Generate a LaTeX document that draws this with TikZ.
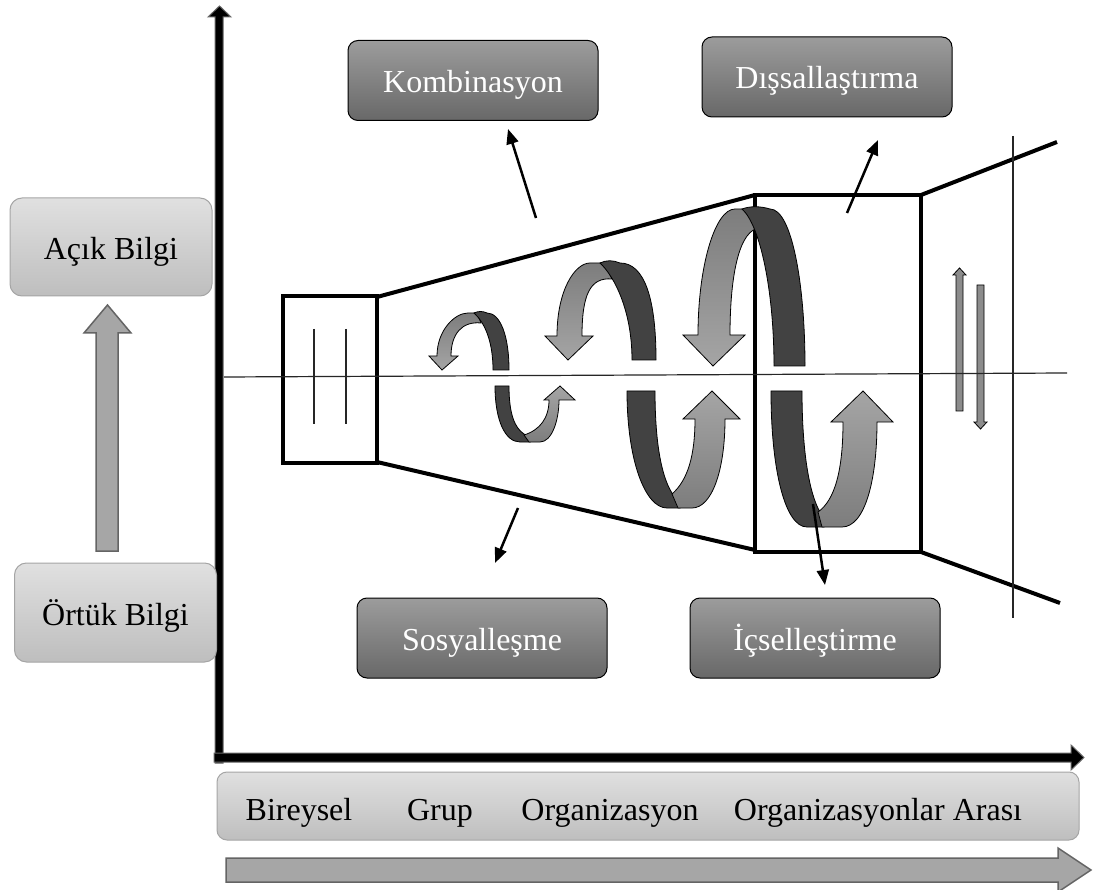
\documentclass[tikz,border=0pt]{standalone}
\usepackage{fontspec}
\setmainfont{Liberation Serif}
\usetikzlibrary{arrows.meta,shadings}
\definecolor{dtop}{RGB}{156,156,156}
\definecolor{dbot}{RGB}{104,104,104}
\definecolor{ltop}{RGB}{224,224,224}
\definecolor{lbot}{RGB}{190,190,190}
\definecolor{lborder}{RGB}{165,165,165}
\definecolor{ribdark}{RGB}{66,66,66}
\definecolor{ribla}{RGB}{125,125,125}
\definecolor{riblb}{RGB}{165,165,165}
\definecolor{garrow}{RGB}{166,166,166}
\definecolor{garrowb}{RGB}{100,100,100}
\definecolor{smallarrow}{RGB}{140,140,140}
\tikzset{
  darkbox/.style={rounded corners=10pt, draw=black, line width=1pt, top color=dtop, bottom color=dbot,
    minimum width=250pt, minimum height=80pt, text=white, inner sep=0pt,
    font=\fontsize{32}{38}\selectfont, text height=24pt, text depth=0pt},
  lightbox/.style={rounded corners=12pt, draw=lborder, line width=1pt, top color=ltop, bottom color=lbot,
    inner sep=0pt, font=\fontsize{32}{38}\selectfont, text height=26pt, text depth=0pt},
  bartext/.style={font=\fontsize{32}{38}\selectfont, anchor=base, inner sep=0pt},
  frameline/.style={line width=4pt, draw=black, line join=miter},
  hairline/.style={line width=1.2pt, draw=black!85},
  conn/.style={line width=2.5pt, -{Triangle[length=15pt,width=12pt]}},
  ribdk/.style={fill=ribdark, draw=black, line width=0.8pt},
  ribup/.style={top color=ribla, bottom color=riblb, draw=black, line width=0.8pt},
  ribdn/.style={top color=riblb, bottom color=ribla, draw=black, line width=0.8pt},
  grayarrow/.style={fill=garrow, draw=garrowb, line width=1.5pt},
  thinarrow/.style={fill=smallarrow, draw=black, line width=0.8pt},
  axisarrow/.style={fill=black, draw=black!60, line width=1pt}
}
\begin{document}
\begin{tikzpicture}[x=1pt,y=-1pt]
\useasboundingbox (0,0) rectangle (1095,890);
\fill[white] (0,0) rectangle (1095,890);

% axes
\path[axisarrow] (215,763) -- (215,17) -- (208,17) -- (219.5,6) -- (231,17) -- (223,17) -- (223,763) -- cycle;
\path[axisarrow] (214,753) -- (1071,753) -- (1071,745) -- (1084,757.5) -- (1071,770) -- (1071,762) -- (214,762) -- cycle;

% left boxes and arrow
\node[lightbox, minimum width=202pt, minimum height=98pt] (acik) at (111,247) {Açık Bilgi};
\node[lightbox, minimum width=202pt, minimum height=99pt] (ortuk) at (115.5,612.5) {Örtük Bilgi};
\path[grayarrow] (96,551) -- (96,333) -- (84,333) -- (107.5,305) -- (131,333) -- (118,333) -- (118,551) -- cycle;

% bottom bar
\node[lightbox, minimum width=862pt, minimum height=68pt, rounded corners=10pt] (bar) at (648,806) {};
\node[bartext] (t1) at (299,820) {Bireysel};
\node[bartext] (t2) at (440,820) {Grup};
\node[bartext] (t3) at (610,820) {Organizasyon};
\node[bartext] (t4) at (878,820) {Organizasyonlar Arası};
\path[grayarrow] (226,858) -- (1058,858) -- (1058,848) -- (1091,870) -- (1058,892) -- (1058,882) -- (226,882) -- cycle;

% dark boxes
\node[darkbox] (komb) at (473,80.5) {Kombinasyon};
\node[darkbox] (diss) at (827,77) {Dışsallaştırma};
\node[darkbox] (sosy) at (482,638) {Sosyalleşme};
\node[darkbox] (icse) at (815,638) {İçselleştirme};

% frames
\draw[frameline] (283,296) rectangle (377,463);
\draw[frameline] (755,195) rectangle (921,552);
\draw[frameline] (377,297) -- (755,195);
\draw[frameline] (377,462) -- (755,550);
\draw[frameline] (921,195) -- (1057,142);
\draw[frameline] (921,552) -- (1060,603);
\draw[hairline] (314,329) -- (314,424);
\draw[hairline] (346,329) -- (346,424);
\draw[hairline] (1013,136) -- (1013,618);

% ribbon A (small, upper)
\path[ribup] (451,356) .. controls (451,334) and (462,321) .. (481,323) -- (477,313) -- (468,313)
  .. controls (455,313) and (437,330) .. (437,356) -- (429,356) -- (442,370) -- (458,356) -- cycle;
\path[ribdk] (493,370) -- (509,370) .. controls (509,335) and (500,313) .. (487,313)
  .. controls (483,311) and (478,311) .. (474,313) .. controls (484,322) and (493,340) .. (493,370) -- cycle;
% ribbon B (small, lower)
\path[ribdk] (495,386) -- (509,386) .. controls (509,415) and (515,428) .. (524,434) -- (530,442) -- (520,442)
  .. controls (505,442) and (495,420) .. (495,386) -- cycle;
\path[ribdn] (529,442) -- (540,442) .. controls (552,442) and (559,420) .. (559,400) -- (575,400) -- (560,386)
  -- (544,400) -- (549,400) .. controls (549,418) and (540,430) .. (524,435) -- cycle;
% ribbon C (middle, upper)
\path[ribup] (582,336) .. controls (582,295) and (590,277) .. (612,279) -- (604,263) -- (590,263)
  .. controls (575,263) and (557,290) .. (557,336) -- (545,336) -- (568,360) -- (593,336) -- cycle;
\path[ribdk] (632,360) -- (656,360) .. controls (656,300) and (645,263) .. (620,263)
  .. controls (613,260) and (606,260) .. (600,263) .. controls (614,276) and (632,310) .. (632,360) -- cycle;
% ribbon D (middle, lower)
\path[ribdk] (627,391) -- (655,391) .. controls (655,445) and (662,480) .. (674,496) -- (680,508) -- (667,508)
  .. controls (645,508) and (627,460) .. (627,391) -- cycle;
\path[ribdn] (678,508) -- (692,508) .. controls (712,508) and (725,470) .. (725,419) -- (740,419) -- (712,391)
  -- (683,419) -- (695,419) .. controls (695,455) and (688,480) .. (672,494) -- cycle;
% ribbon E (large, upper)
\path[ribup] (730,335) .. controls (730,272) and (740,229) .. (760,228) -- (746,209) -- (735,209)
  .. controls (715,209) and (698,266) .. (698,335) -- (683,335) -- (713,366) -- (745,335) -- cycle;
\path[ribdk] (774,366) -- (805,366) .. controls (805,285) and (792,209) .. (770,209)
  .. controls (760,206) and (750,206) .. (742,209) .. controls (760,225) and (774,290) .. (774,366) -- cycle;
% ribbon F (large, lower)
\path[ribdk] (771,391) -- (802,391) .. controls (802,455) and (810,495) .. (820,512) -- (824,527) -- (807,527)
  .. controls (785,527) and (771,470) .. (771,391) -- cycle;
\path[ribdn] (822,527) -- (842,527) .. controls (865,527) and (877,480) .. (877,422) -- (893,422) -- (863,391)
  -- (831,422) -- (843,422) .. controls (843,470) and (835,500) .. (818,512) -- cycle;

% small arrows right
\path[thinarrow] (956,411) -- (956,275) -- (953,275) -- (959.5,268) -- (966,275) -- (963,275) -- (963,411) -- cycle;
\path[thinarrow] (977,285) -- (984,285) -- (984,422) -- (987,422) -- (980.5,429) -- (974,422) -- (977,422) -- cycle;

% horizontal thin line
\draw[hairline] (224,377) -- (1067,373);

% connectors
\coordinate (k1) at (536,218); \coordinate (k2) at (508,129);
\coordinate (d1) at (847,213); \coordinate (d2) at (878,140);
\coordinate (s1) at (518,508); \coordinate (s2) at (495,563);
\coordinate (i1) at (813,504); \coordinate (i2) at (825,585);
\draw[conn] (k1) -- (k2);
\draw[conn] (d1) -- (d2);
\draw[conn] (s1) -- (s2);
\draw[conn] (i1) -- (i2);
\end{tikzpicture}
\end{document}
